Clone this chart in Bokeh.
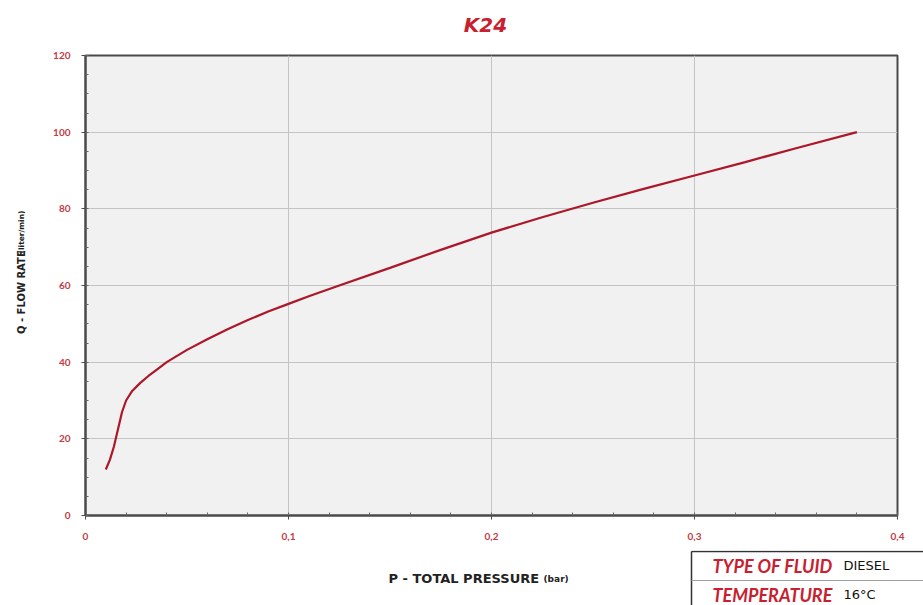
from math import pi
import numpy as np
from bokeh.plotting import figure
from bokeh.layouts import column, row
from bokeh.models import Range1d, FixedTicker, CustomJSTickFormatter, ColumnDataSource
from bokeh.core.properties import value
from bokeh.embed import file_html
from bokeh.resources import INLINE

# ---- data ----
pressure_bar = [0.010, 0.012, 0.014, 0.016, 0.018, 0.020, 0.023, 0.027, 0.031,
                0.035, 0.040, 0.050, 0.060, 0.070, 0.080, 0.090, 0.100, 0.110,
                0.125, 0.150, 0.175, 0.200, 0.225, 0.250, 0.275, 0.300, 0.325,
                0.350, 0.380]
flow_lpm = [12.0, 14.5, 18.0, 22.5, 27.0, 30.0, 32.5, 34.6, 36.4,
            38.0, 40.0, 43.2, 46.0, 48.6, 51.0, 53.2, 55.2, 57.2,
            60.0, 64.6, 69.3, 73.8, 77.8, 81.6, 85.2, 88.7, 92.2,
            95.8, 100.0]
x_ticks = [0, 0.1, 0.2, 0.3, 0.4]
y_ticks = [0, 20, 40, 60, 80, 100, 120]
title_text = "K24"
x_label_main, x_label_unit = "P - TOTAL PRESSURE", "(bar)"
y_label_main, y_label_unit = "Q - FLOW RATE", "(liter/min)"
fluid_key, fluid_val = "TYPE OF FLUID", "DIESEL"
temp_key, temp_val = "TEMPERATURE", "16°C"

# ---- layout constants (page pixels) ----
W, H = 923, 605
TOP_H = 48          # title strip
LEFT_W = 38         # y-label strip
BOT_H = 55          # x-label / info strip
FW, FH = 812, 460   # plot frame
FRAME_LEFT, FRAME_TOP = 85, 55
RED = "#c8202f"
TICK_RED = "#c43a44"
FONT = "Lato"
LABEL_FONT = "DejaVu Sans"


def strip(w, h, x0, y0):
    f = figure(width=w, height=h, x_range=Range1d(x0, x0 + w),
               y_range=Range1d(y0 + h, y0), min_border=0,
               x_axis_type=None, y_axis_type=None,
               output_backend="svg", toolbar_location=None)
    f.outline_line_color = None
    f.background_fill_color = "white"
    f.border_fill_color = "white"
    f.grid.visible = False
    return f


def txt(f, x, y, text, size, color="#222222", style="bold", angle=0.0,
        align="left", font=LABEL_FONT):
    f.text(x=[x], y=[y], text=[text], angle=angle, text_align=align,
           text_baseline="middle", text_color=color, text_font=value(font),
           text_font_style=style, text_font_size=size)


# ---- title strip ----
top = strip(W, TOP_H, 0, 0)
txt(top, 485, 24, title_text, "20px", color=RED, style="bold italic", align="center")

# ---- y label strip ----
MAIN_H = H - TOP_H - BOT_H
left = strip(LEFT_W, MAIN_H, 0, TOP_H)
txt(left, 21, 352, y_label_main, "10px", angle=pi / 2)
txt(left, 21, 264, y_label_unit, "7.5px", angle=pi / 2)

# ---- main chart ----
p = figure(frame_width=FW, frame_height=FH,
           min_border_left=FRAME_LEFT - LEFT_W, min_border_top=FRAME_TOP - TOP_H,
           min_border_right=W - FRAME_LEFT - FW,
           min_border_bottom=MAIN_H - (FRAME_TOP - TOP_H) - FH,
           x_range=Range1d(0, 0.4), y_range=Range1d(0, 120),
           output_backend="svg", toolbar_location=None)
p.background_fill_color = "#f1f1f1"
p.border_fill_color = "white"
p.outline_line_color = "#4a4a4a"
p.outline_line_width = 2

p.xaxis.ticker = FixedTicker(ticks=x_ticks, minor_ticks=list(np.round(np.arange(0, 0.4001, 0.02), 3)))
p.yaxis.ticker = FixedTicker(ticks=y_ticks, minor_ticks=list(range(0, 121, 5)))
p.xaxis.formatter = CustomJSTickFormatter(code="""
    if (Math.abs(tick) < 1e-9) return '0';
    return tick.toFixed(1).replace('.', ',');
""")
for ax in (p.xaxis, p.yaxis):
    ax.axis_line_color = "#4a4a4a"
    ax.axis_line_width = 2
    ax.major_tick_line_color = "#4a4a4a"
    ax.minor_tick_line_color = "#666666"
    ax.major_tick_out = 4
    ax.major_tick_in = 0
    ax.minor_tick_in = 3
    ax.minor_tick_out = 0
    ax.major_label_text_color = TICK_RED
    ax.major_label_text_font = FONT
    ax.major_label_text_font_style = "bold"
    ax.major_label_text_font_size = "10px"
p.xaxis.major_label_standoff = 13
p.yaxis.major_label_standoff = 11
p.grid.grid_line_color = "#c4c4c4"
p.grid.grid_line_width = 1

src = ColumnDataSource(data=dict(p=pressure_bar, q=flow_lpm))
p.line("p", "q", source=src, line_color="#ac1729", line_width=2.2)

# ---- bottom strip: x label + info box ----
bot = strip(W, BOT_H, 0, H - BOT_H)
txt(bot, 388, 577.5, x_label_main, "13px")
txt(bot, 543, 578, x_label_unit, "9px")
bx, by_top, by_mid = 691, 551, 580
bot.segment(x0=[bx, bx], y0=[by_top, by_top], x1=[bx, W], y1=[H, by_top],
            line_color="#333333", line_width=1.5)
bot.segment(x0=[bx], y0=[by_mid], x1=[W], y1=[by_mid], line_color="#a0a0a0", line_width=1)
txt(bot, 712, 565, fluid_key, "18px", color=RED, style="bold italic", font=FONT)
txt(bot, 843, 565, fluid_val, "13px", color="#111111", style="normal")
txt(bot, 712, 594, temp_key, "18px", color=RED, style="bold italic", font=FONT)
txt(bot, 843, 594, temp_val, "13px", color="#111111", style="normal")

layout = column(top, row(left, p), bot)
open("out.html", "w").write(file_html(layout, INLINE))
